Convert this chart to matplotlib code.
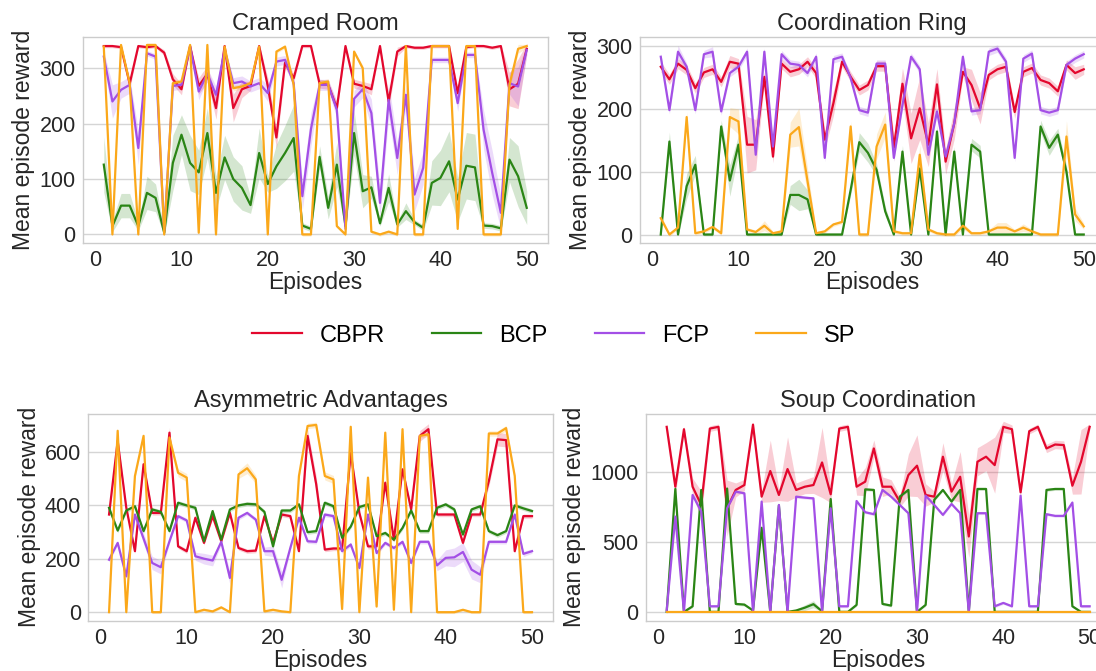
import matplotlib.pyplot as plt
import numpy as np

plt.rcParams['font.family'] = ['Liberation Sans', 'DejaVu Sans']

episodes = np.arange(1, 51)
labels = ["CBPR", "BCP", "FCP", "SP"]
colors = ["#e3072d", "#2a8515", "#a34fe6", "#fba81a"]

# Cramped Room
cr_cbpr = [340, 340, 338, 272, 340, 338, 340, 328, 280, 262,
           340, 268, 290, 228, 340, 228, 262, 268, 340, 268,
           175, 310, 282, 340, 340, 272, 270, 228, 340, 272,
           268, 262, 340, 240, 330, 340, 337, 337, 340, 340,
           340, 255, 338, 340, 340, 337, 340, 262, 272, 335]
cr_bcp = [126, 15, 52, 52, 15, 75, 66, 3, 129, 180,
          129, 112, 183, 75, 139, 100, 84, 53, 147, 91,
          123, 147, 174, 16, 10, 140, 48, 126, 15, 183,
          78, 85, 20, 84, 18, 42, 22, 12, 93, 102,
          132, 63, 124, 121, 16, 15, 11, 135, 105, 48]
cr_fcp = [321, 240, 261, 270, 156, 327, 321, 5, 268, 270,
          339, 258, 290, 252, 333, 273, 276, 267, 273, 255,
          312, 315, 273, 69, 190, 270, 270, 225, 10, 245,
          262, 219, 57, 243, 138, 252, 72, 120, 315, 315,
          315, 237, 324, 324, 189, 111, 39, 273, 267, 333]
cr_sp = [339, 0, 342, 273, 0, 342, 342, 0, 273, 276,
         342, 3, 342, 0, 339, 264, 267, 273, 339, 0,
         330, 339, 270, 0, 0, 273, 276, 15, 0, 330,
         300, 5, 0, 5, 0, 340, 0, 0, 340, 340,
         340, 10, 340, 340, 0, 0, 0, 270, 335, 340]
cr_cbpr_ci = [3, 3, 3, 10, 3, 3, 3, 5, 10, 10,
              3, 15, 15, 20, 3, 25, 15, 8, 3, 15,
              20, 10, 8, 3, 3, 8, 8, 10, 3, 8,
              8, 10, 3, 15, 8, 3, 3, 3, 3, 3,
              3, 10, 3, 3, 3, 3, 3, 30, 45, 10]
cr_bcp_ci = [50, 10, 22, 22, 8, 30, 25, 5, 50, 36,
             50, 40, 45, 30, 40, 40, 40, 15, 45, 15,
             40, 50, 60, 5, 5, 20, 20, 40, 8, 40,
             30, 20, 5, 25, 5, 15, 5, 5, 40, 50,
             55, 40, 60, 60, 5, 5, 5, 40, 55, 30]
cr_fcp_ci = [10, 30, 15, 15, 30, 5, 5, 5, 8, 8,
             5, 15, 10, 15, 5, 10, 10, 10, 10, 15,
             8, 8, 10, 25, 30, 10, 10, 15, 8, 15,
             15, 25, 25, 30, 30, 20, 30, 30, 5, 5,
             5, 15, 5, 5, 35, 40, 30, 20, 35, 10]
cr_sp_ci = [3, 3, 3, 5, 3, 3, 3, 3, 5, 5,
            3, 3, 3, 3, 3, 5, 5, 5, 3, 3,
            3, 3, 5, 3, 3, 5, 5, 3, 3, 3,
            5, 3, 3, 3, 3, 3, 3, 3, 3, 3,
            3, 3, 3, 3, 3, 3, 3, 10, 8, 3]

# Coordination Ring
ring_cbpr = [267, 247, 272, 262, 233, 258, 263, 243, 275, 272,
             143, 143, 251, 124, 272, 259, 263, 275, 257, 151,
             209, 275, 251, 230, 238, 268, 268, 138, 240, 153,
             201, 143, 239, 116, 177, 259, 238, 201, 254, 263,
             267, 195, 259, 265, 246, 241, 228, 270, 257, 263]
ring_bcp = [0, 148, 0, 77, 111, 0, 0, 172, 86, 143,
            0, 0, 0, 0, 0, 63, 63, 56, 0, 0,
            0, 0, 71, 147, 130, 103, 37, 0, 132, 0,
            105, 0, 164, 0, 132, 0, 143, 132, 0, 0,
            0, 0, 0, 0, 172, 138, 159, 100, 0, 0]
ring_fcp = [283, 198, 291, 267, 198, 287, 291, 196, 257, 267,
            291, 127, 291, 140, 287, 272, 270, 257, 283, 122,
            279, 283, 249, 198, 194, 272, 272, 122, 206, 283,
            263, 127, 196, 124, 177, 283, 196, 198, 291, 296,
            275, 122, 280, 288, 198, 194, 198, 270, 280, 287]
ring_sp = [26, 0, 11, 187, 2, 5, 12, 2, 187, 180,
           8, 4, 14, 2, 5, 159, 171, 85, 2, 5,
           16, 20, 172, 0, 0, 140, 175, 5, 2, 2,
           127, 8, 2, 0, 0, 14, 2, 2, 5, 11,
           11, 5, 11, 5, 0, 0, 0, 156, 32, 13]
ring_cbpr_ci = [8, 8, 8, 8, 8, 8, 8, 8, 10, 8,
                45, 40, 8, 10, 8, 8, 8, 8, 8, 15,
                20, 8, 8, 8, 8, 8, 8, 20, 25, 40,
                50, 35, 25, 20, 25, 8, 25, 25, 8, 8,
                8, 10, 8, 8, 8, 8, 8, 8, 10, 8]
ring_bcp_ci = [2, 15, 2, 20, 15, 2, 2, 10, 25, 15,
               2, 2, 2, 2, 2, 15, 25, 15, 2, 2,
               2, 2, 8, 15, 15, 10, 8, 2, 10, 2,
               8, 2, 10, 2, 8, 2, 10, 10, 2, 2,
               2, 2, 2, 2, 10, 12, 10, 10, 2, 2]
ring_fcp_ci = [6, 6, 10, 6, 6, 6, 8, 6, 6, 6,
               6, 6, 6, 6, 6, 6, 6, 6, 6, 6,
               6, 6, 6, 6, 6, 6, 6, 6, 6, 6,
               6, 6, 6, 6, 6, 6, 6, 6, 6, 6,
               6, 6, 6, 6, 6, 6, 6, 6, 6, 6]
ring_sp_ci = [5, 3, 3, 8, 3, 3, 3, 3, 15, 20,
              3, 3, 8, 3, 3, 20, 30, 20, 3, 3,
              3, 3, 8, 3, 3, 20, 20, 3, 3, 3,
              15, 3, 3, 3, 3, 5, 3, 3, 3, 8,
              8, 3, 6, 3, 3, 3, 3, 25, 10, 5]

# Asymmetric Advantages
asym_cbpr = [365, 640, 390, 228, 553, 371, 371, 671, 246, 228,
             353, 259, 359, 265, 371, 240, 228, 230, 359, 260,
             365, 359, 228, 659, 478, 234, 238, 238, 596, 371,
             246, 246, 484, 271, 534, 384, 659, 684, 365, 365,
             365, 259, 365, 365, 490, 646, 643, 228, 359, 359]
asym_bcp = [390, 305, 380, 396, 303, 384, 375, 303, 409, 399,
            390, 265, 378, 271, 384, 399, 405, 403, 375, 246,
            380, 380, 403, 299, 303, 409, 396, 278, 320, 393,
            403, 284, 296, 271, 315, 380, 303, 303, 390, 403,
            384, 290, 384, 396, 303, 288, 303, 399, 388, 378]
asym_fcp = [196, 259, 134, 365, 275, 184, 168, 265, 359, 343,
            209, 200, 193, 263, 128, 353, 371, 346, 228, 228,
            121, 240, 353, 265, 263, 365, 359, 228, 253, 165,
            365, 221, 259, 240, 263, 184, 263, 263, 175, 203,
            205, 225, 159, 140, 263, 263, 263, 365, 218, 228]
asym_sp = [0, 678, 0, 509, 659, 0, 0, 653, 521, 503,
           0, 9, 3, 18, 0, 515, 538, 496, 3, 9,
           3, 0, 509, 696, 700, 509, 496, 12, 693, 0,
           503, 21, 671, 9, 684, 0, 659, 665, 0, 0,
           0, 9, 0, 0, 668, 668, 688, 509, 0, 0]
asym_cbpr_ci = [8, 15, 8, 8, 10, 8, 8, 20, 8, 8,
                8, 8, 8, 8, 8, 8, 8, 8, 8, 8,
                8, 8, 8, 25, 30, 8, 8, 8, 10, 8,
                10, 8, 10, 8, 10, 8, 20, 20, 8, 8,
                8, 8, 8, 8, 20, 25, 25, 8, 8, 8]
asym_bcp_ci = [8, 8, 8, 8, 8, 8, 8, 8, 8, 8,
               8, 8, 8, 8, 8, 8, 8, 8, 8, 8,
               8, 8, 8, 8, 8, 8, 8, 8, 8, 8,
               8, 8, 8, 8, 8, 8, 8, 8, 8, 8,
               8, 8, 8, 8, 8, 8, 8, 8, 8, 8]
asym_fcp_ci = [8, 8, 8, 8, 20, 25, 25, 8, 8, 8,
               15, 20, 20, 10, 25, 8, 8, 8, 15, 20,
               30, 8, 8, 8, 8, 8, 8, 8, 8, 10,
               8, 8, 8, 8, 8, 10, 8, 8, 20, 30,
               35, 35, 35, 30, 8, 8, 8, 8, 10, 8]
asym_sp_ci = [5, 8, 5, 8, 8, 5, 5, 8, 15, 15,
              5, 5, 5, 5, 5, 15, 20, 15, 5, 5,
              5, 5, 10, 10, 10, 15, 15, 5, 8, 5,
              8, 5, 8, 5, 8, 5, 8, 8, 5, 5,
              5, 5, 5, 5, 10, 10, 10, 8, 5, 5]

# Soup Coordination
soup_cbpr = [1320, 893, 1303, 893, 763, 1308, 1320, 740, 870, 905,
             1336, 822, 1005, 834, 1019, 870, 893, 905, 1066, 839,
             1308, 1320, 893, 929, 1166, 893, 893, 787, 976, 1043,
             834, 822, 1107, 858, 964, 538, 1071, 1107, 1047, 1320,
             1303, 853, 1289, 1320, 1166, 1194, 1190, 900, 1071, 1320]
soup_bcp = [0, 877, 0, 40, 870, 0, 0, 880, 57, 52,
            10, 600, 0, 760, 0, 10, 30, 55, 5, 805,
            0, 0, 50, 874, 870, 57, 45, 822, 870, 0,
            50, 800, 870, 787, 870, 0, 877, 877, 0, 0,
            0, 0, 0, 0, 870, 877, 877, 40, 0, 0]
soup_fcp = [10, 680, 0, 834, 716, 40, 40, 739, 858, 846,
            0, 787, 0, 763, 0, 822, 815, 810, 0, 739,
            40, 40, 791, 711, 697, 870, 822, 763, 704, 0,
            829, 763, 692, 770, 704, 0, 704, 704, 40, 64,
            40, 829, 40, 40, 697, 685, 685, 780, 40, 40]
soup_sp = [0, 0, 0, 0, 0, 0, 0, 0, 0, 0,
           0, 0, 0, 0, 0, 0, 0, 0, 0, 0,
           0, 0, 0, 0, 0, 0, 0, 0, 0, 0,
           0, 0, 0, 0, 0, 0, 0, 0, 0, 0,
           0, 0, 0, 0, 0, 0, 0, 0, 0, 0]
soup_cbpr_ci = [20, 60, 20, 60, 100, 20, 20, 200, 50, 40,
                20, 40, 220, 40, 230, 50, 50, 60, 250, 60,
                20, 20, 60, 100, 60, 70, 50, 40, 150, 220,
                80, 40, 100, 60, 180, 150, 100, 100, 200, 40,
                30, 30, 20, 20, 30, 30, 30, 60, 230, 20]
soup_bcp_ci = [3, 10, 3, 10, 10, 3, 3, 10, 10, 10,
               5, 10, 3, 10, 3, 10, 20, 25, 5, 10,
               3, 3, 10, 10, 10, 10, 10, 10, 10, 3,
               10, 10, 10, 10, 10, 3, 10, 10, 3, 3,
               3, 3, 3, 3, 10, 10, 10, 10, 3, 3]
soup_fcp_ci = [10, 10, 10, 10, 10, 10, 10, 10, 10, 10,
               10, 10, 10, 10, 10, 10, 10, 10, 10, 10,
               10, 10, 10, 10, 10, 10, 10, 10, 10, 10,
               10, 10, 10, 10, 10, 10, 10, 10, 10, 10,
               10, 10, 10, 10, 10, 10, 10, 10, 10, 10]
soup_sp_ci = [3, 3, 3, 3, 3, 3, 3, 3, 3, 3,
              3, 3, 3, 3, 3, 3, 3, 3, 3, 3,
              3, 3, 3, 3, 3, 3, 3, 3, 3, 3,
              3, 3, 3, 3, 3, 3, 3, 3, 3, 3,
              3, 3, 3, 3, 3, 3, 3, 3, 3, 3]

panels = [
    ("Cramped Room", [cr_cbpr, cr_bcp, cr_fcp, cr_sp],
     [cr_cbpr_ci, cr_bcp_ci, cr_fcp_ci, cr_sp_ci], [0, 100, 200, 300], (-16, 357)),
    ("Coordination Ring", [ring_cbpr, ring_bcp, ring_fcp, ring_sp],
     [ring_cbpr_ci, ring_bcp_ci, ring_fcp_ci, ring_sp_ci], [0, 100, 200, 300], (-14, 315)),
    ("Asymmetric Advantages", [asym_cbpr, asym_bcp, asym_fcp, asym_sp],
     [asym_cbpr_ci, asym_bcp_ci, asym_fcp_ci, asym_sp_ci], [0, 200, 400, 600], (-33, 742)),
    ("Soup Coordination", [soup_cbpr, soup_bcp, soup_fcp, soup_sp],
     [soup_cbpr_ci, soup_bcp_ci, soup_fcp_ci, soup_sp_ci], [0, 500, 1000], (-65, 1414)),
]

# axes boxes in figure coords (left, bottom, width, height)
boxes = [[0.0754, 0.6374, 0.4245, 0.308],
         [0.5836, 0.6374, 0.4245, 0.308],
         [0.0802, 0.0745, 0.4245, 0.309],
         [0.5890, 0.0745, 0.4245, 0.309]]

fig = plt.figure(figsize=(10.96, 6.71), dpi=100)
handles = []
for (title, series, bands, yticks, ylim), box in zip(panels, boxes):
    ax = fig.add_axes(box)
    for vals, ci, c, lab in zip(series, bands, colors, labels):
        m = np.array(vals, dtype=float)
        b = np.array(ci, dtype=float)
        ax.fill_between(episodes, m - b, m + b, color=c, alpha=0.2, linewidth=0)
        ln, = ax.plot(episodes, m, color=c, linewidth=1.6, label=lab)
        if len(handles) < 4:
            handles.append(ln)
    ax.set_title(title, fontsize=17, color="#262626", pad=5)
    ax.set_xlabel("Episodes", fontsize=16.5, color="#262626", labelpad=0)
    ax.set_ylabel("Mean episode reward", fontsize=16.5, color="#262626", labelpad=3)
    ax.set_xticks([0, 10, 20, 30, 40, 50])
    ax.set_yticks(yticks)
    ax.set_xlim(-1.45, 52.45)
    ax.set_ylim(*ylim)
    ax.tick_params(length=0, labelsize=15.5, labelcolor="#262626", pad=5)
    ax.grid(axis="y", color="#d5d5d5", linewidth=1)
    ax.set_axisbelow(True)
    for s in ax.spines.values():
        s.set_color("#cccccc")
        s.set_linewidth(1)

fig.legend(handles, labels, loc="center", bbox_to_anchor=(0.505, 0.500), ncol=4,
           frameon=False, fontsize=17, handlelength=2.1, handletextpad=0.75,
           columnspacing=2.0)

fig.savefig("out.png", dpi=100)
